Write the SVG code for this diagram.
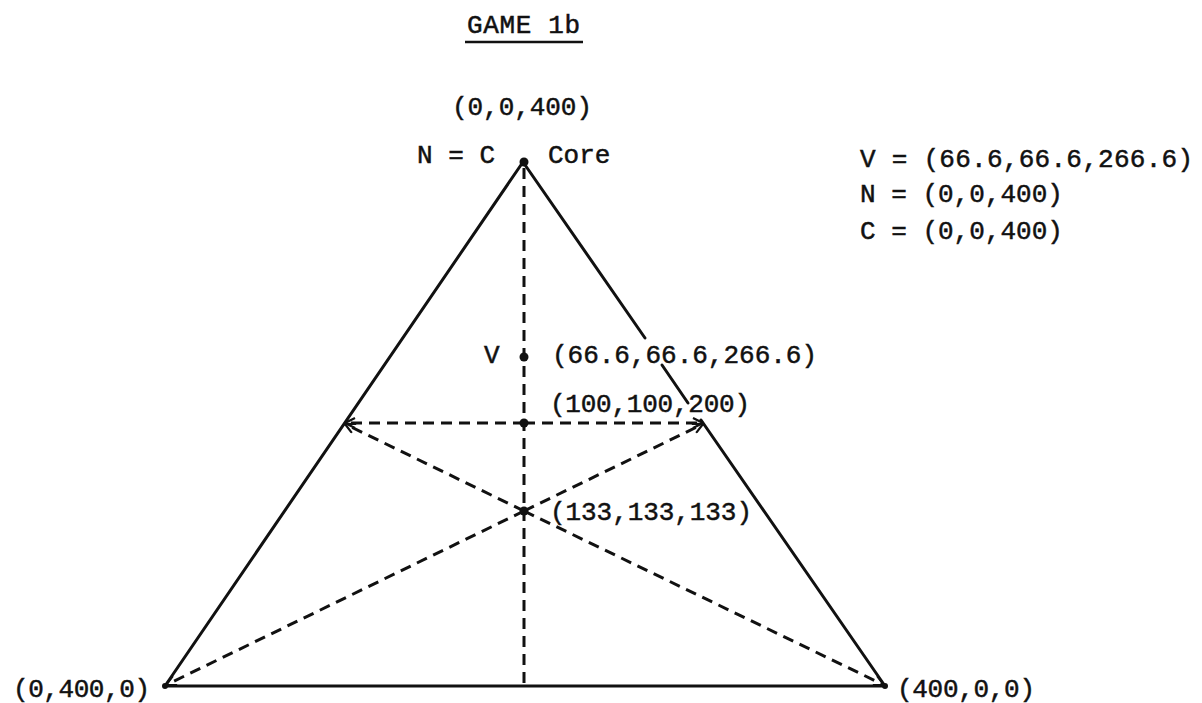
<svg xmlns="http://www.w3.org/2000/svg" width="1202" height="703" viewBox="0 0 1202 703">
<style>
text{font-family:"Liberation Mono","DejaVu Sans Mono",monospace;font-size:26px;fill:#111;stroke:#111;stroke-width:0.5}
.solid{stroke:#111;stroke-width:3;fill:none;stroke-linecap:round}
.dash{stroke:#111;stroke-width:3;fill:none;stroke-dasharray:11 7}
.dot{fill:#111}
</style>
<defs>
<marker id="arr" viewBox="0 0 12 12" refX="11" refY="6" markerWidth="12" markerHeight="12" markerUnits="userSpaceOnUse" orient="auto">
<path d="M1,1 L11,6 L1,11" fill="none" stroke="#111" stroke-width="2.2"/>
</marker>
</defs>
<rect width="1202" height="703" fill="#fff"/>
<g id="title">
<text x="467" y="33" textLength="113">GAME 1b</text>
<line x1="465" y1="42" x2="583" y2="42" stroke="#111" stroke-width="2.5"/>
</g>
<g id="connectors">
<line class="solid" x1="523" y1="162" x2="165" y2="686"/>
<line class="solid" x1="165" y1="686" x2="885" y2="686"/>
<line class="solid" x1="523" y1="162" x2="645" y2="338"/>
<line class="solid" x1="662" y1="365" x2="688" y2="403"/>
<line class="solid" x1="701" y1="420" x2="885" y2="686"/>
<line class="dash" x1="524" y1="168" x2="524" y2="686"/>
<line class="dash" x1="524" y1="423" x2="345" y2="423" marker-end="url(#arr)"/>
<line class="dash" x1="524" y1="423" x2="703" y2="423" marker-end="url(#arr)"/>
<line class="dash" x1="524" y1="511" x2="345" y2="424" marker-end="url(#arr)"/>
<line class="dash" x1="524" y1="511" x2="703" y2="424" marker-end="url(#arr)"/>
<line class="dash" x1="524" y1="511" x2="166" y2="685" marker-end="url(#arr)"/>
<line class="dash" x1="524" y1="511" x2="884" y2="685" marker-end="url(#arr)"/>
</g>
<g id="node-top">
<circle class="dot" cx="524" cy="162" r="4.5"/>
<text x="452" y="115" textLength="140">(0,0,400)</text>
<text x="417" y="163">N = C</text>
<text x="548" y="163">Core</text>
</g>
<g id="node-V">
<circle class="dot" cx="524" cy="357" r="4.5"/>
<text x="484" y="363">V</text>
<text x="552" y="363" textLength="265">(66.6,66.6,266.6)</text>
</g>
<g id="node-mid">
<circle class="dot" cx="524" cy="423" r="4.5"/>
<text x="550" y="412" textLength="200">(100,100,200)</text>
</g>
<g id="node-centroid">
<circle class="dot" cx="524" cy="511" r="4.5"/>
<text x="550" y="520" textLength="202">(133,133,133)</text>
</g>
<g id="node-left">
<circle class="dot" cx="165" cy="686" r="3"/>
<text x="13" y="697" textLength="137">(0,400,0)</text>
</g>
<g id="node-right">
<circle class="dot" cx="885" cy="686" r="3"/>
<text x="897" y="697" textLength="138">(400,0,0)</text>
</g>
<g id="legend">
<text x="860" y="167" textLength="333">V = (66.6,66.6,266.6)</text>
<text x="860" y="202">N = (0,0,400)</text>
<text x="860" y="239">C = (0,0,400)</text>
</g>
</svg>
